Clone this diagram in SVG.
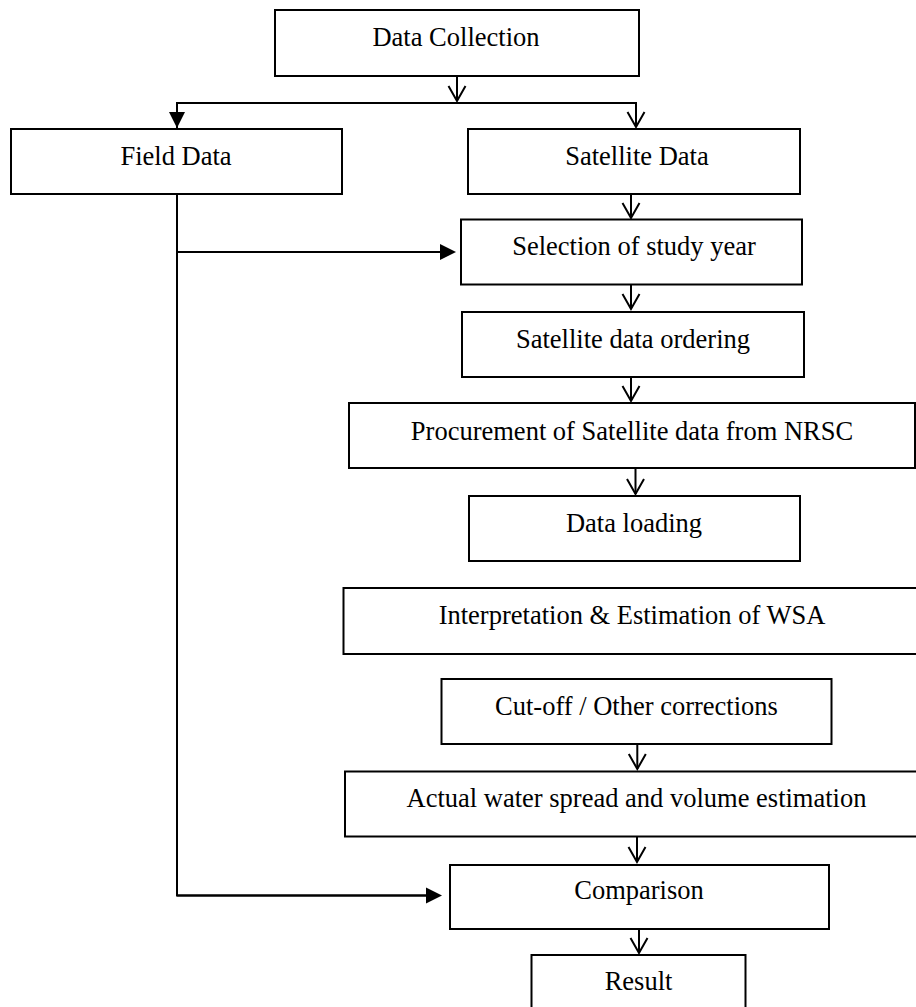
<svg xmlns="http://www.w3.org/2000/svg" width="916" height="1007" viewBox="0 0 916 1007">
<style>
.box{fill:#fff;stroke:#000;stroke-width:2}
.lbl{font-family:"Liberation Serif","Times New Roman",serif;font-size:26.5px;fill:#000;text-anchor:middle}
.ln{fill:none;stroke:#000;stroke-width:2}
.open{marker-end:url(#vopen)}
.fill{marker-end:url(#vfill)}
</style>
<defs>
<marker id="vopen" markerUnits="userSpaceOnUse" orient="auto" refX="0" refY="0" markerWidth="40" markerHeight="40" viewBox="-20 -20 40 40" overflow="visible">
<path d="M-15,-8.5 L0,0 L-15,8.5" fill="none" stroke="#000" stroke-width="2"/>
</marker>
<marker id="vfill" markerUnits="userSpaceOnUse" orient="auto" refX="-4" refY="0" markerWidth="40" markerHeight="40" viewBox="-20 -20 40 40" overflow="visible">
<path d="M-16,-8 L0,0 L-16,8 Z" fill="#000" stroke="none"/>
</marker>
</defs>
<rect width="916" height="1007" fill="#fff"/>
<g id="connectors">
<line class="ln open" x1="457" y1="76" x2="457" y2="101"/>
<polyline class="ln" points="177,129 177,103 636,103 636,126"/>
<line class="ln fill" x1="177" y1="103" x2="177" y2="124"/>
<line class="ln open" x1="636" y1="103" x2="636" y2="127"/>
<line class="ln open" x1="631" y1="194" x2="631" y2="218"/>
<line class="ln open" x1="631" y1="285" x2="631" y2="309"/>
<line class="ln open" x1="631" y1="377" x2="631" y2="401"/>
<line class="ln open" x1="635.5" y1="468" x2="635.5" y2="494"/>
<line class="ln open" x1="637.3" y1="744" x2="637.3" y2="769"/>
<line class="ln open" x1="637" y1="837" x2="637" y2="862"/>
<line class="ln open" x1="639" y1="929" x2="639" y2="953"/>
<polyline class="ln" points="177,194 177,895.5 430,895.5"/>
<line class="ln fill" x1="177" y1="895.5" x2="438" y2="895.5"/>
<line class="ln fill" x1="177" y1="252" x2="452" y2="252"/>
</g>
<g id="n-data-collection"><rect class="box" x="275" y="10" width="364" height="66"/><text class="lbl" x="456" y="45.5">Data Collection</text></g>
<g id="n-field-data"><rect class="box" x="11" y="129" width="331" height="65"/><text class="lbl" x="176" y="164.5">Field Data</text></g>
<g id="n-satellite-data"><rect class="box" x="468" y="129" width="332" height="65"/><text class="lbl" x="637" y="164.5">Satellite Data</text></g>
<g id="n-selection"><rect class="box" x="461" y="219.5" width="341" height="65"/><text class="lbl" x="634" y="255">Selection of study year</text></g>
<g id="n-ordering"><rect class="box" x="462" y="312" width="342" height="65"/><text class="lbl" x="633" y="347.5">Satellite data ordering</text></g>
<g id="n-procurement"><rect class="box" x="349" y="403" width="566" height="65"/><text class="lbl" x="632" y="439.5">Procurement of Satellite data from NRSC</text></g>
<g id="n-data-loading"><rect class="box" x="469" y="496" width="331" height="65"/><text class="lbl" x="634" y="531.5">Data loading</text></g>
<g id="n-interpretation"><rect class="box" x="343.5" y="588" width="580" height="66"/><text class="lbl" x="632" y="623.5">Interpretation &amp; Estimation of WSA</text></g>
<g id="n-cutoff"><rect class="box" x="441.5" y="679" width="390" height="65"/><text class="lbl" x="636.5" y="714.5">Cut-off / Other corrections</text></g>
<g id="n-actual"><rect class="box" x="345" y="771.5" width="580" height="65"/><text class="lbl" x="636.5" y="806.5">Actual water spread and volume estimation</text></g>
<g id="n-comparison"><rect class="box" x="450" y="865" width="379" height="64"/><text class="lbl" x="639" y="899">Comparison</text></g>
<g id="n-result"><rect class="box" x="531.5" y="955" width="214" height="62"/><text class="lbl" x="638.5" y="990">Result</text></g>
</svg>
